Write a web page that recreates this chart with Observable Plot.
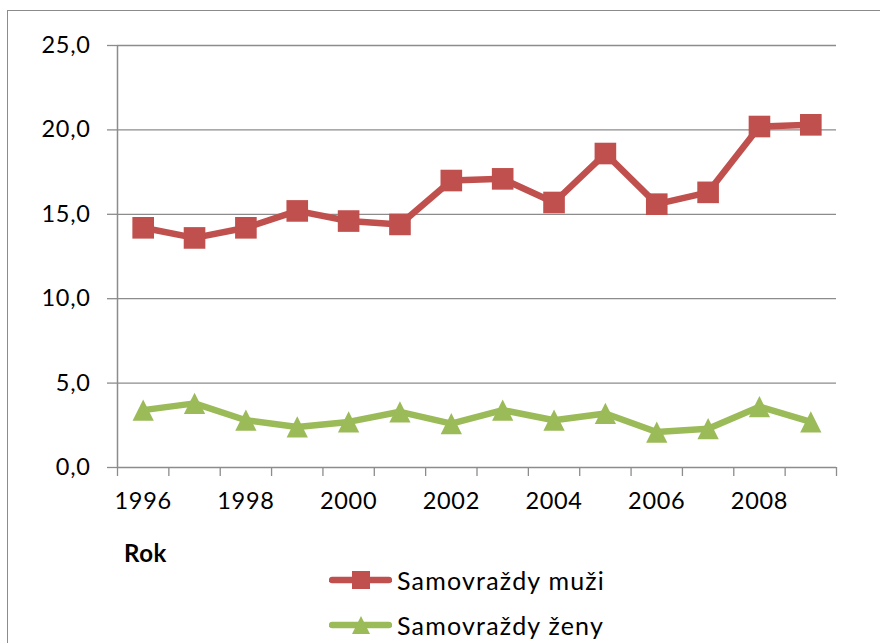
<!DOCTYPE html>
<html>
<head>
<meta charset="utf-8">
<script src="https://cdn.jsdelivr.net/npm/d3@7"></script>
<script src="https://cdn.jsdelivr.net/npm/@observablehq/plot@0.6"></script>
<style>
  html, body { margin: 0; padding: 0; background: #fff; overflow: hidden; width: 880px; height: 643px; }
  #frame { position: absolute; left: 7px; top: 10px; width: 920px; height: 700px; border: 1.5px solid #8c8c8c; box-sizing: border-box; }
  #chart { position: absolute; left: 0; top: 0; }
  .txt { position: absolute; font-family: Lato, "Open Sans", sans-serif; color: #000; white-space: nowrap; }
  .rok { left: 124px; top: 538px; font-weight: bold; font-size: 24px; letter-spacing: 0.6px; }
  .leg { left: 329px; display: flex; align-items: center; font-size: 25px; letter-spacing: 1.2px; }
  .leg svg { margin-right: 5px; }
</style>
</head>
<body>
<div id="frame"></div>
<div id="chart"></div>
<div class="txt rok">Rok</div>
<div class="txt leg" id="leg1" style="top:565px"></div>
<div class="txt leg" id="leg2" style="top:610px"></div>
<script>
const years = [1996, 1997, 1998, 1999, 2000, 2001, 2002, 2003, 2004, 2005, 2006, 2007, 2008, 2009];
const men   = [14.2, 13.6, 14.2, 15.2, 14.6, 14.4, 17.0, 17.1, 15.7, 18.6, 15.6, 16.3, 20.2, 20.3];
const women = [3.4, 3.8, 2.8, 2.4, 2.7, 3.3, 2.6, 3.4, 2.8, 3.2, 2.1, 2.3, 3.6, 2.7];
const seriesNames = ["Samovraždy muži", "Samovraždy ženy"];
const yTicks = [0, 5, 10, 15, 20, 25];
const xLabelYears = [1996, 1998, 2000, 2002, 2004, 2006, 2008];

const RED = "#C0504D", GREEN = "#9BBB59", GRID = "#8c8c8c";

const data = [
  ...years.map((y, i) => ({year: y, value: men[i], series: seriesNames[0]})),
  ...years.map((y, i) => ({year: y, value: women[i], series: seriesNames[1]}))
];
const boundaries = d3.range(years[0] - 0.5, years[years.length - 1] + 1, 1);

const square = {draw(ctx, size) { const s = Math.sqrt(size) / 2; ctx.rect(-s, -s, 2 * s, 2 * s); }};
const triangle = {draw(ctx, size) {
  const w = Math.sqrt(size) / 2;
  ctx.moveTo(0, -w); ctx.lineTo(w, w); ctx.lineTo(-w, w); ctx.closePath();
}};

const fmt = d => d.toFixed(1).replace(".", ",");

const chart = Plot.plot({
  width: 880,
  height: 530,
  marginLeft: 117,
  marginRight: 44,
  marginTop: 45,
  marginBottom: 63,
  style: {fontFamily: "Lato, 'Open Sans', sans-serif", fontSize: "23.5px", letterSpacing: "0.7px", color: "#000", background: "transparent"},
  x: {domain: [years[0] - 0.5, years[years.length - 1] + 0.5]},
  y: {domain: [0, 25]},
  marks: [
    Plot.gridY(yTicks.filter(t => t > 0), {stroke: GRID, strokeOpacity: 1, strokeWidth: 1.3}),
    Plot.axisY({ticks: yTicks, tickFormat: fmt, tickSize: 10, tickPadding: 17, stroke: GRID, strokeWidth: 1.3, label: null, fill: "#000"}),
    Plot.ruleX([boundaries[0]], {stroke: GRID, strokeWidth: 1.5}),
    Plot.ruleY([0], {stroke: GRID, strokeWidth: 1.5}),
    Plot.axisX({ticks: boundaries, tickFormat: () => "", tickSize: 9, stroke: GRID, strokeWidth: 1.3, label: null}),
    Plot.axisX({ticks: xLabelYears, tickFormat: d => String(d), tickSize: 0, tickPadding: 25, label: null, fill: "#000"}),
    Plot.line(data.filter(d => d.series === seriesNames[0]), {x: "year", y: "value", stroke: RED, strokeWidth: 6.5, strokeLinejoin: "round", strokeLinecap: "round"}),
    Plot.line(data.filter(d => d.series === seriesNames[1]), {x: "year", y: "value", stroke: GREEN, strokeWidth: 6.5, strokeLinejoin: "round", strokeLinecap: "round"}),
    Plot.dot(data.filter(d => d.series === seriesNames[0]), {x: "year", y: "value", symbol: square, r: 12.2, fill: RED, stroke: "none"}),
    Plot.dot(data.filter(d => d.series === seriesNames[1]), {x: "year", y: "value", symbol: triangle, r: 12.0, fill: GREEN, stroke: "none"})
  ]
});
document.getElementById("chart").appendChild(chart);

function legendSwatch(color, kind) {
  const ns = "http://www.w3.org/2000/svg";
  const svg = document.createElementNS(ns, "svg");
  svg.setAttribute("width", 63); svg.setAttribute("height", 22);
  const line = document.createElementNS(ns, "line");
  line.setAttribute("x1", 3); line.setAttribute("x2", 60); line.setAttribute("y1", 11); line.setAttribute("y2", 11);
  line.setAttribute("stroke", color); line.setAttribute("stroke-width", 6.5); line.setAttribute("stroke-linecap", "round");
  svg.appendChild(line);
  let m;
  if (kind === "square") {
    m = document.createElementNS(ns, "rect");
    m.setAttribute("x", 23); m.setAttribute("y", 2); m.setAttribute("width", 18); m.setAttribute("height", 18);
  } else {
    m = document.createElementNS(ns, "path");
    m.setAttribute("d", "M32,2L41,20L23,20Z");
  }
  m.setAttribute("fill", color);
  svg.appendChild(m);
  return svg;
}
const l1 = document.getElementById("leg1");
l1.appendChild(legendSwatch(RED, "square"));
l1.appendChild(document.createTextNode(seriesNames[0]));
const l2 = document.getElementById("leg2");
l2.appendChild(legendSwatch(GREEN, "triangle"));
l2.appendChild(document.createTextNode(seriesNames[1]));
</script>
</body>
</html>
